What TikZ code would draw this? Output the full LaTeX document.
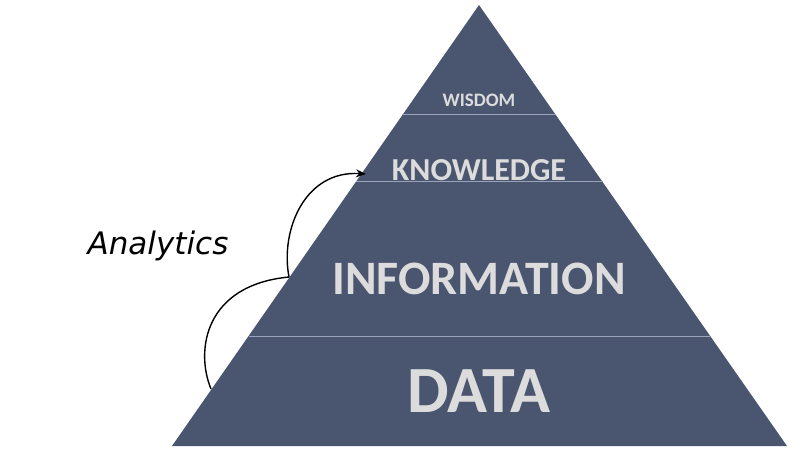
\documentclass[tikz,border=0pt]{standalone}
\usepackage{fontspec}
\setmainfont{Carlito}
\newfontfamily\handfont{DejaVu Sans}
\usetikzlibrary{calc,arrows.meta}
\definecolor{pyr}{HTML}{4A5570}
\definecolor{txt}{HTML}{DCDCDC}
\definecolor{sep}{HTML}{9AA3B8}
\tikzset{lvl/.style={text=txt,font=\bfseries,inner sep=0pt},
  sepline/.style={draw=sep,line width=1pt},
  flow/.style={draw=black,line width=1.4pt}}
\begin{document}
\begin{tikzpicture}[x=1pt,y=-1pt]
\useasboundingbox (0,0) rectangle (800,450);
\coordinate (apex) at (479,5);
\coordinate (bl) at (172,446);
\coordinate (br) at (787,446);
\fill[pyr] (apex) -- (bl) -- (br) -- cycle;
\foreach \t in {0.2494,0.4011,0.7506}{
  \draw[sepline] ($(apex)!\t!(bl)$) -- ($(apex)!\t!(br)$);}
\node[lvl,font=\bfseries\fontsize{19}{19}\selectfont] (w) at (479,100) {WISDOM};
\node[lvl,font=\bfseries\fontsize{32}{32}\selectfont] (k) at (479,170) {KNOWLEDGE};
\node[lvl,font=\bfseries\fontsize{48}{48}\selectfont] (i) at (479,279) {INFORMATION};
\node[lvl,font=\bfseries\fontsize{66}{66}\selectfont] (d) at (479,391) {DATA};
\node[font=\handfont\itshape\fontsize{31}{31}\selectfont] (an) at (158,246) {Analytics};
\coordinate (s) at (211,389);
\coordinate (m) at (289,277);
\coordinate (e) at (366,174);
\draw[flow] (s) .. controls (195,350) and (205,285) .. (m);
\draw[flow,-{Stealth[length=10pt,width=8pt]}] (m) .. controls (280,230) and (305,170) .. (e);
\end{tikzpicture}
\end{document}
